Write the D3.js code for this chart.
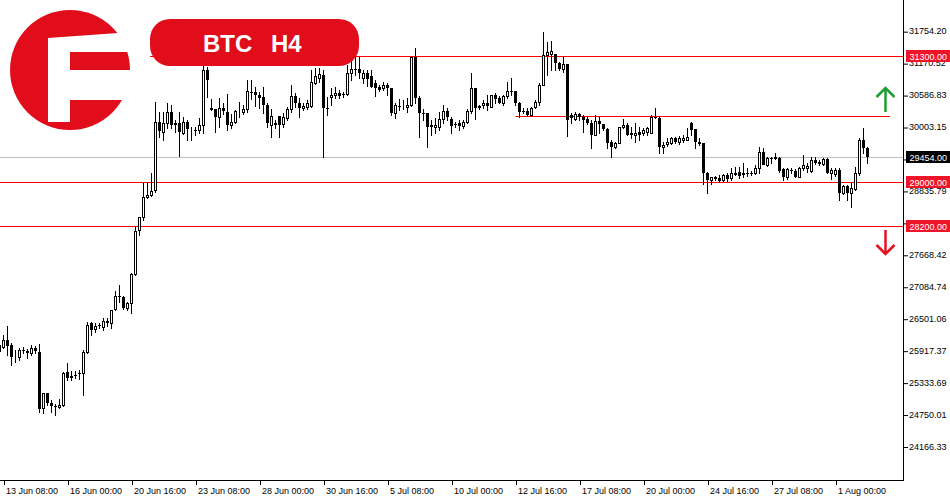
<!DOCTYPE html>
<html>
<head>
<meta charset="utf-8">
<script src="https://cdn.jsdelivr.net/npm/d3@7"></script>
<style>
  body { margin: 0; background: #fff; }
  svg { display: block; }
  .axis text { font-family: "Liberation Sans", Arial, sans-serif; font-size: 9px; fill: #000; }
</style>
</head>
<body>
<svg id="chart"></svg>
<script>
// BTC H4 candles, first bar is the one half hidden at the left edge
var opens = [26021,25984,26112,26021,25802,25802,25930,25911,25875,25966,25893,24870,25144,24961,24906,24888,24925,25527,25454,25473,25509,25509,25893,26423,26313,26387,26350,26441,26423,26678,26916,26898,26697,26788,27318,28122,28360,28725,28761,28853,30095,29912,30077,30277,30077,30077,29894,30095,29949,29949,29949,30040,31045,30351,30332,30187,30351,30277,30040,30095,30296,30277,30332,30643,30643,30588,30552,30406,30040,30077,30205,30059,30168,30332,30570,30442,30351,30369,30387,30807,30899,30954,30351,30552,30588,30625,30606,30606,30990,31063,31063,30899,30990,30936,30807,30735,30716,30771,30716,30259,30387,30387,30369,30406,31283,30533,30259,30259,30040,30004,30004,30150,30296,30150,30059,30077,30022,30095,30296,30716,30387,30406,30442,30369,30588,30533,30442,30570,30662,30662,30442,30296,30296,30223,30369,30460,30771,31319,31338,31338,31173,31063,31155,30223,30150,30241,30187,30150,30077,29858,30113,30059,29967,29730,29638,29711,30004,30040,29894,29858,29912,29894,29912,29894,30187,30168,29638,29693,29711,29803,29730,29766,29766,30077,29967,29730,29711,29163,29035,29072,29072,29035,29127,29072,29145,29181,29163,29163,29163,29163,29254,29547,29309,29437,29456,29437,29236,29090,29218,29200,29090,29254,29254,29200,29401,29364,29328,29419,29163,29145,29218,28798,28926,28798,28871,29163,29766,29620];
var highs = [26057,26204,26368,26057,25930,25966,25984,25948,26021,26002,26039,25144,25150,25016,24943,25035,25527,25692,25546,25546,25564,25930,26441,26441,26423,26423,26514,26514,26660,27008,27117,26916,26806,27336,28177,28360,28980,28998,29163,30460,30277,30277,30442,30406,30132,30277,30187,30132,30004,30004,30168,31173,31100,30515,30340,30533,30442,30606,30241,30314,30460,30406,30862,30862,30735,30643,30735,30442,30332,30132,30210,30259,30369,30771,30625,30533,30442,30497,31045,31082,31082,31045,30552,30716,30735,30680,30643,31137,31228,31283,31283,31045,31045,31045,30862,30771,30825,30807,30720,30442,30515,30497,30533,31283,31447,30570,30332,30265,30132,30168,30277,30406,30351,30187,30095,30132,30132,30332,30990,30720,30406,30497,30588,30588,30625,30570,30588,30825,30899,30668,30460,30351,30351,30369,30497,30807,31739,31557,31575,31343,31191,31283,31160,30259,30277,30259,30223,30187,30132,30223,30187,30065,29985,29766,29730,30004,30150,30077,30004,30077,30004,29985,30004,30223,30351,30205,29730,29803,29821,29821,29839,29858,29985,30095,29973,29803,29717,29181,29090,29108,29127,29145,29163,29254,29273,29273,29346,29254,29200,29309,29638,29620,29456,29456,29529,29456,29254,29254,29254,29236,29273,29492,29346,29456,29456,29401,29437,29437,29254,29254,29254,28944,28944,28998,29273,29803,29985,29638];
var lows = [25784,25966,25839,25656,25710,25747,25875,25784,25839,25875,24796,24778,24925,24796,24742,24870,24906,25381,25381,25418,25399,25108,25875,26204,26258,26332,26295,26368,26332,26660,26806,26678,26660,26605,27300,28031,28305,28707,28743,28816,29821,29766,29985,29985,29912,29474,29876,29766,29766,29858,29894,29894,30552,30314,29912,30004,30241,29949,29985,30077,30187,30241,30277,30515,30387,30351,30259,30004,29821,29985,29821,30004,30132,30277,30369,30187,30314,30332,30369,30789,30825,29456,30223,30406,30533,30533,30552,30588,30862,30954,30899,30807,30753,30735,30570,30662,30680,30588,30223,30168,30314,30332,30277,30387,30442,29821,30132,29638,29858,29894,29949,30077,30132,29894,30004,29949,29985,30077,30259,30150,30332,30351,30314,30369,30442,30442,30406,30533,30588,30406,30187,30259,30205,30205,30351,30406,30765,30954,31045,31045,31045,31008,29839,30077,30132,30132,29912,30059,29620,29852,29894,29949,29620,29456,29620,29705,29985,29858,29803,29730,29766,29858,29858,29888,30168,29529,29529,29656,29693,29711,29693,29730,29760,29858,29620,29675,28962,28798,28962,29035,28998,29017,29017,29035,29127,29072,29090,29108,29127,29145,29163,29456,29291,29346,29419,29181,29035,29053,29163,29090,29085,29218,29181,29181,29328,29309,29309,29163,29053,29108,28670,28780,28670,28542,28853,29127,29529,29346];
var closes = [25893,26112,26002,25802,25808,25930,25925,25875,25966,25911,24852,25144,24961,24906,24888,24925,25509,25418,25418,25465,25491,25893,26387,26295,26368,26380,26460,26450,26660,26916,26898,26697,26788,27318,28104,28360,28725,28761,28835,30095,29931,30077,30277,30040,30040,29912,30095,29967,29955,29943,30040,31045,30862,30314,30187,30351,30296,30040,30095,30296,30302,30332,30662,30625,30588,30533,30406,30077,30205,30040,30040,30187,30332,30570,30442,30351,30387,30442,30825,30936,30972,30351,30345,30588,30625,30570,30600,30990,31063,31057,30990,30990,30880,30735,30716,30680,30771,30716,30259,30406,30381,30393,30406,31283,30533,30259,30253,30004,30004,30040,30150,30296,30187,30022,30053,30022,30095,30296,30716,30351,30351,30442,30387,30588,30515,30442,30570,30662,30656,30442,30277,30290,30223,30351,30460,30771,31319,31374,31392,31173,31063,31155,30132,30168,30241,30187,30132,30077,29858,30113,30059,29967,29711,29638,29711,30004,30040,29858,29858,29894,29858,29949,29985,30187,30168,29638,29675,29730,29803,29730,29803,29803,29821,29949,29730,29693,29163,29035,29090,29090,29017,29127,29053,29163,29163,29108,29127,29145,29157,29254,29547,29309,29437,29431,29419,29200,29090,29236,29212,29090,29254,29309,29291,29401,29346,29328,29419,29163,29218,29218,28798,28926,28798,28889,29163,29766,29620,29454];

// bottom axis: bar number of each label and its text
var timeTickBars = [1, 17, 33, 49, 65, 81, 97, 113, 129, 145, 161, 177, 193, 209];
var timeTickLabels = ["13 Jun 08:00", "16 Jun 00:00", "20 Jun 16:00", "23 Jun 08:00", "28 Jun 00:00", "30 Jun 16:00", "5 Jul 08:00",
  "10 Jul 00:00", "12 Jul 16:00", "17 Jul 08:00", "20 Jul 00:00", "24 Jul 16:00", "27 Jul 08:00", "1 Aug 00:00"];

// price axis labels
var priceTicks = ["31754.20", "31170.52", "30586.83", "30003.15", "29419.47", "28835.79", "28252.11",
  "27668.42", "27084.74", "26501.06", "25917.37", "25333.69", "24750.01", "24166.33"];

// levels drawn on the chart
var redLevels = [31300, 29000, 28200];
var midLevel = 30200;          // short line starting at 12 Jul
var midLevelFrom = 129;
var lastPrice = 29454;

var W = 950, H = 500;
var plotW = 903, plotH = 480;

var svg = d3.select("#chart")
    .attr("width", W)
    .attr("height", H);

var x = d3.scaleLinear()
    .domain([0.125, 225.875])
    .range([0, plotW]);

var y = d3.scaleLinear()
    .domain([23554, 32324])
    .range([plotH, 0]);

var px = function(k) { return Math.round(x(k) - 0.5) + 0.5; };
var py = function(v) { return Math.round(y(v)) + 0.5; };

// level lines under the candles
svg.append("line")
    .attr("x1", 0).attr("x2", plotW)
    .attr("y1", py(lastPrice)).attr("y2", py(lastPrice))
    .attr("stroke", "#c0c0c0");

svg.selectAll("line.level")
    .data(redLevels)
    .enter()
    .append("line")
      .attr("class", "level")
      .attr("x1", function(d, i) { return i === 0 ? 150 : 0; })   // the top one is hidden behind the logo
      .attr("x2", plotW)
      .attr("y1", function(d) { return py(d); })
      .attr("y2", function(d) { return py(d); })
      .attr("stroke", "#ff0000");

svg.append("line")
    .attr("x1", x(midLevelFrom)).attr("x2", 890)
    .attr("y1", py(midLevel)).attr("y2", py(midLevel))
    .attr("stroke", "#ff0000");

// candles
var bars = d3.range(opens.length);
var g = svg.append("g");

g.selectAll("line.wick")
    .data(bars)
    .enter()
    .append("line")
      .attr("x1", function(k) { return px(k); })
      .attr("x2", function(k) { return px(k); })
      .attr("y1", function(k) { return Math.round(y(highs[k])); })
      .attr("y2", function(k) { return Math.round(y(lows[k])) + 1; })
      .attr("stroke", "#000")
      .attr("stroke-width", 1);

g.selectAll("rect.body")
    .data(bars)
    .enter()
    .append("rect")
      .attr("x", function(k) { return closes[k] >= opens[k] ? px(k) - 1 : px(k) - 1.5; })
      .attr("y", function(k) {
          var t = Math.round(y(Math.max(opens[k], closes[k])));
          return closes[k] >= opens[k] ? t + 0.5 : t;
      })
      .attr("width", function(k) { return closes[k] >= opens[k] ? 2 : 3; })
      .attr("height", function(k) {
          var t = Math.round(y(Math.max(opens[k], closes[k])));
          var b = Math.round(y(Math.min(opens[k], closes[k])));
          return closes[k] >= opens[k] ? Math.max(b - t, 0) : Math.max(b - t, 1);
      })
      .style("fill", function(k) { return closes[k] >= opens[k] ? "#fff" : "#000"; })
      .style("stroke", function(k) { return closes[k] >= opens[k] ? "#000" : "none"; })
      .style("stroke-width", 1);

// frame
svg.append("line")
    .attr("x1", plotW + 0.5).attr("x2", plotW + 0.5)
    .attr("y1", 0).attr("y2", plotH + 1)
    .attr("stroke", "#000");
svg.append("line")
    .attr("x1", 0).attr("x2", plotW + 1)
    .attr("y1", plotH + 0.5).attr("y2", plotH + 0.5)
    .attr("stroke", "#000");

// price axis
var yAxis = svg.append("g")
    .attr("class", "axis")
    .attr("transform", "translate(" + (plotW + 1) + ",0.5)")
    .call(d3.axisRight(y)
        .tickValues(priceTicks.map(Number))
        .tickFormat(function(d, i) { return priceTicks[i]; })
        .tickSize(4)
        .tickPadding(1));
yAxis.select(".domain").remove();
yAxis.selectAll("text").attr("dy", "0.25em");

// time axis
var xAxis = svg.append("g")
    .attr("class", "axis")
    .attr("transform", "translate(0," + (plotH + 1) + ")")
    .call(d3.axisBottom(x)
        .tickValues(timeTickBars)
        .tickFormat(function(d, i) { return timeTickLabels[i]; })
        .tickSize(4)
        .tickPadding(3));
xAxis.select(".domain").remove();
xAxis.selectAll(".tick line").attr("transform", "translate(0.5,0)");
xAxis.selectAll("text").attr("text-anchor", "start").attr("x", 2);

// price labels on the axis (they sit over the axis labels, as in the terminal)
var tags = [
  {v: redLevels[0], bg: "#f01428"},
  {v: lastPrice, bg: "#000"},
  {v: redLevels[1], bg: "#f01428"},
  {v: redLevels[2], bg: "#f01428"}
];
var tag = svg.selectAll("g.tag")
    .data(tags)
    .enter()
    .append("g")
      .attr("transform", function(d) { return "translate(906," + Math.round(y(d.v)) + ")"; });
tag.append("rect")
    .attr("x", 0).attr("y", -6)
    .attr("width", 44).attr("height", 12)
    .style("fill", function(d) { return d.bg; });
tag.append("text")
    .attr("x", 3.5).attr("y", 3.5)
    .style("font-family", "Liberation Sans, Arial, sans-serif")
    .style("font-size", "9px")
    .style("fill", "#fff")
    .text(function(d) { return d3.format(".2f")(d.v); });

// arrows
function arrow(cx, y0, y1, color) {
  var dir = y1 < y0 ? 1 : -1;
  svg.append("path")
      .attr("d", "M" + cx + "," + y0 + "V" + y1 +
                 "M" + (cx - 9) + "," + (y1 + dir * 9) + "L" + cx + "," + y1 + "L" + (cx + 9) + "," + (y1 + dir * 9))
      .attr("fill", "none")
      .attr("stroke", color)
      .attr("stroke-width", 2.5);
}
arrow(885.5, 112, 88, "#1e9e32");
arrow(885.5, 230, 254, "#e5121e");

// logo and title
var logo = svg.append("g");
logo.append("circle")
    .attr("cx", 70).attr("cy", 70).attr("r", 60)
    .style("fill", "#e20d1b");
logo.append("path")
    .attr("d", "M48,38 L118,33 L132,52 L70,52 L70,70 L100,70 L100,100 L70,100 L70,122 L48,122 Z")
    .style("fill", "#fff");
logo.append("path")
    .attr("d", "M100,70 L132,70 L132,100 L100,100 Z")
    .style("fill", "#fff");

svg.append("rect")
    .attr("x", 150).attr("y", 19)
    .attr("width", 209).attr("height", 47)
    .attr("rx", 20)
    .style("fill", "#e20d1b");
var title = svg.append("g")
    .style("font-family", "Liberation Sans, Arial, sans-serif")
    .style("font-weight", "bold")
    .style("font-size", "24px")
    .style("fill", "#fff");
title.append("text").attr("x", 203).attr("y", 52).text("BTC");
title.append("text").attr("x", 271).attr("y", 52).text("H4");
</script>
</body>
</html>
